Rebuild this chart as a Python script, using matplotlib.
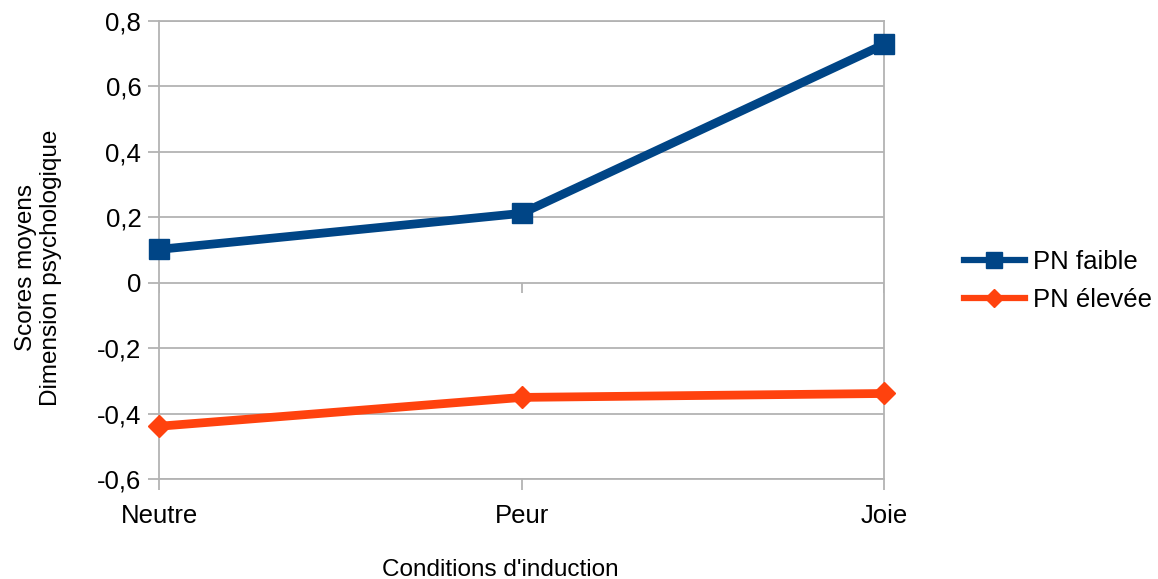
import matplotlib
matplotlib.use("Agg")
import matplotlib.pyplot as plt

categories = ["Neutre", "Peur", "Joie"]
pn_faible = [0.102, 0.212, 0.728]
pn_elevee = [-0.438, -0.350, -0.338]
y_ticks = [-0.6, -0.4, -0.2, 0, 0.2, 0.4, 0.6, 0.8]
y_tick_labels = ["-0,6", "-0,4", "-0,2", "0", "0,2", "0,4", "0,6", "0,8"]

plt.rcParams['font.family'] = ['Liberation Sans', 'DejaVu Sans']

fig = plt.figure(figsize=(11.58, 5.79), dpi=100)
ax = fig.add_axes([0.1376, 0.1722, 0.7636 - 0.1376, 0.9642 - 0.1722])

grid_c = "#b3b3b3"
x = list(range(len(categories)))
ax.plot(x, pn_faible, color="#004586", lw=6.3, marker="s", ms=14.5,
        label="PN faible", zorder=3, clip_on=False)
ax.plot(x, pn_elevee, color="#ff420e", lw=6.3, marker="D", ms=11,
        label="PN élevée", zorder=3, clip_on=False)

ax.set_xlim(0, 2)
ax.set_ylim(-0.6, 0.8)
ax.set_yticks(y_ticks)
ax.set_yticklabels(y_tick_labels, fontsize=18.5)
ax.set_xticks(x)
ax.set_xticklabels(categories, fontsize=18.5)
ax.yaxis.grid(True, color=grid_c, lw=1.3)
ax.set_axisbelow(True)
for s in ax.spines.values():
    s.set_color(grid_c)
    s.set_linewidth(1.3)
ax.tick_params(axis='both', color=grid_c, length=8, width=1.3)
ax.tick_params(axis='y', pad=5)
ax.tick_params(axis='x', pad=10)
# small category ticks on the zero line
ax.vlines(x, -0.03, 0, color=grid_c, lw=1.3, zorder=1)

ax.set_xlabel("Conditions d'induction", fontsize=17.5)
ax.xaxis.set_label_coords(0.471, -0.174)
ax.set_ylabel("Scores moyens\nDimension psychologique", fontsize=17.5)
ax.yaxis.set_label_coords(-0.134, 0.462)

leg = ax.legend(loc="center left", bbox_to_anchor=(1.11, 0.432), frameon=False,
                fontsize=18.5, handlelength=2.37, handletextpad=0.3,
                labelspacing=0.55, borderpad=0, borderaxespad=0, markerscale=0.8)
for h in leg.legend_handles:
    h.set_linewidth(4.5)

fig.savefig("out.png", dpi=100)
